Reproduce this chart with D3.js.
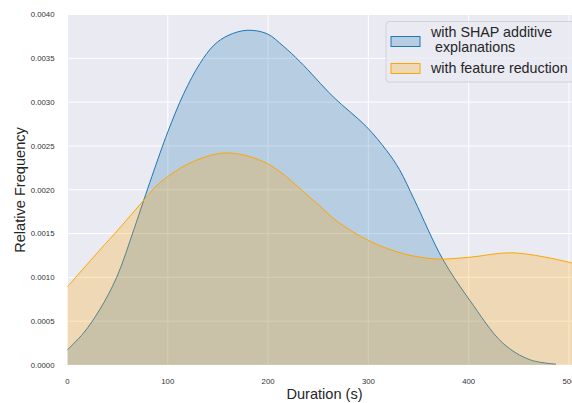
<!DOCTYPE html>
<html>
<head>
<meta charset="utf-8">
<script src="https://cdn.jsdelivr.net/npm/d3@7"></script>
<style>
  body { margin: 0; background: #fff; }
  svg { display: block; font-family: "Liberation Sans", Arial, sans-serif; }
</style>
</head>
<body>
<svg width="572" height="403"></svg>
<script>
// density curves
var shapDuration = [0, 16, 32, 49, 66, 76, 92, 100, 116, 132, 146, 160, 179, 199, 215, 232, 265, 298, 318, 331, 346, 374, 401, 434, 461, 487];
var shapDensity = [0.000175, 0.000365, 0.00063, 0.00100, 0.00154, 0.00188, 0.00241, 0.00266, 0.00310, 0.00344, 0.00365, 0.00376, 0.00382, 0.00378, 0.00364, 0.00346, 0.00306, 0.00272, 0.00245, 0.00223, 0.00188, 0.00121, 0.00074, 0.00025, 0.00006, 0.00001];
var reducDuration = [0, 32, 51, 76, 92, 125, 159, 199, 245, 270, 302, 335, 368, 401, 444, 501, 512];
var reducDensity = [0.000893, 0.00131, 0.00155, 0.00188, 0.00208, 0.00232, 0.00242, 0.00230, 0.00188, 0.00163, 0.00141, 0.00127, 0.00121, 0.00123, 0.00128, 0.00117, 0.00113];
var xTicks = [0, 100, 200, 300, 400, 500];
var yTicks = [0, 0.0005, 0.0010, 0.0015, 0.0020, 0.0025, 0.0030, 0.0035, 0.0040];
var seriesNames = ["with SHAP additive", " explanations", "with feature reduction"];

var svg = d3.select("svg");
var plotLeft = 67.5, plotTop = 14.5, plotBottom = 365, plotRight = 582;

var x = d3.scaleLinear().domain([0, 500]).range([plotLeft, 569]);
var y = d3.scaleLinear().domain([0, 0.004]).range([plotBottom, plotTop]);

// background
svg.append("rect")
    .attr("x", plotLeft).attr("y", plotTop)
    .attr("width", plotRight - plotLeft).attr("height", plotBottom - plotTop)
    .attr("fill", "#eaeaf2");

// grid
svg.append("g").selectAll("line")
    .data(xTicks).enter().append("line")
    .attr("x1", function (d) { return x(d); })
    .attr("x2", function (d) { return x(d); })
    .attr("y1", plotTop).attr("y2", plotBottom)
    .attr("stroke", "#fff").attr("stroke-width", 1);
svg.append("g").selectAll("line")
    .data(yTicks).enter().append("line")
    .attr("x1", plotLeft).attr("x2", plotRight)
    .attr("y1", function (d) { return y(d); })
    .attr("y2", function (d) { return y(d); })
    .attr("stroke", "#fff").attr("stroke-width", 1);

function drawKde(xs, ys, color) {
    var pts = xs.map(function (d, i) { return [d, ys[i]]; });
    var curve = d3.curveCatmullRom.alpha(0.5);
    var area = d3.area()
        .curve(curve)
        .x(function (d) { return x(d[0]); })
        .y0(y(0))
        .y1(function (d) { return y(d[1]); });
    var line = d3.line()
        .curve(curve)
        .x(function (d) { return x(d[0]); })
        .y(function (d) { return y(d[1]); });
    svg.append("path").datum(pts)
        .attr("d", area)
        .attr("fill", color)
        .attr("fill-opacity", 0.25);
    svg.append("path").datum(pts)
        .attr("d", line)
        .attr("fill", "none")
        .attr("stroke", color)
        .attr("stroke-width", 1);
}

drawKde(shapDuration, shapDensity, "#1f77b4");
drawKde(reducDuration, reducDensity, "#ffa500");

// tick labels
svg.append("g").selectAll("text")
    .data(yTicks).enter().append("text")
    .attr("x", 54.5)
    .attr("y", function (d) { return y(d) + 2.8; })
    .attr("text-anchor", "end")
    .attr("font-size", 7.8)
    .attr("fill", "#333")
    .text(function (d) { return d3.format(".4f")(d); });
svg.append("g").selectAll("text")
    .data(xTicks).enter().append("text")
    .attr("x", function (d) { return x(d); })
    .attr("y", 384)
    .attr("text-anchor", "middle")
    .attr("font-size", 7.8)
    .attr("fill", "#333")
    .text(function (d) { return d; });

// axis labels
svg.append("text")
    .attr("x", 324.5).attr("y", 399)
    .attr("text-anchor", "middle")
    .attr("font-size", 14.6)
    .attr("fill", "#262626")
    .text("Duration (s)");
svg.append("text")
    .attr("transform", "translate(25,190) rotate(-90)")
    .attr("text-anchor", "middle")
    .attr("font-size", 14.6)
    .attr("fill", "#262626")
    .text("Relative Frequency");

// legend
var lg = svg.append("g");
lg.append("rect")
    .attr("x", 386).attr("y", 21.5)
    .attr("width", 200).attr("height", 60.5)
    .attr("rx", 3)
    .attr("fill", "#eaeaf2").attr("fill-opacity", 0.8)
    .attr("stroke", "#cccccc").attr("stroke-width", 0.8);
lg.append("rect")
    .attr("x", 391).attr("y", 36.5).attr("width", 29).attr("height", 10)
    .attr("fill", "#1f77b4").attr("fill-opacity", 0.25)
    .attr("stroke", "#1f77b4").attr("stroke-width", 1);
lg.append("rect")
    .attr("x", 391).attr("y", 63.5).attr("width", 29).attr("height", 10)
    .attr("fill", "#ffa500").attr("fill-opacity", 0.25)
    .attr("stroke", "#ffa500").attr("stroke-width", 1);
lg.append("text").attr("x", 431).attr("y", 36.5)
    .attr("font-size", 14.3).attr("fill", "#262626")
    .style("white-space", "pre")
    .text(seriesNames[0]);
lg.append("text").attr("x", 431).attr("y", 51.5)
    .attr("font-size", 14.3).attr("fill", "#262626")
    .style("white-space", "pre")
    .text(seriesNames[1]);
lg.append("text").attr("x", 431).attr("y", 72.5)
    .attr("font-size", 14.3).attr("fill", "#262626")
    .text(seriesNames[2]);
</script>
</body>
</html>
